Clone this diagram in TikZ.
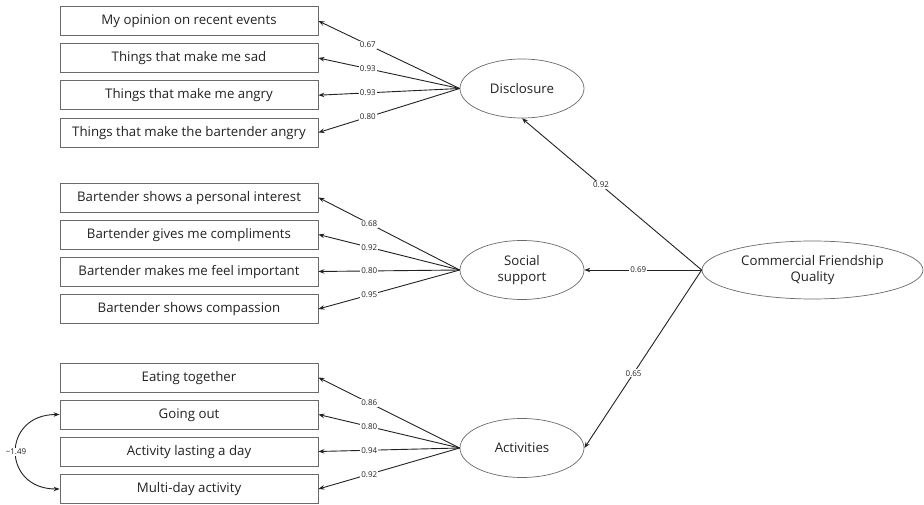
\documentclass[tikz,border=0pt]{standalone}
\usepackage{fontspec}
\setmainfont{Open Sans}
\usetikzlibrary{arrows.meta,shapes.geometric}
\tikzset{>={Stealth[length=6pt,width=4.5pt]}}
\definecolor{ink}{HTML}{222222}
\definecolor{rim}{HTML}{6A6A6A}

\begin{document}
\begin{tikzpicture}[x=1pt,y=-1pt,
  item/.style={draw=rim,line width=.8pt,minimum width=258pt,minimum height=29pt,inner sep=0pt,text height=.714em,text depth=0pt,font=\fontsize{13.25}{15}\selectfont,text=ink},
  latent/.style={ellipse,draw=rim,line width=.7pt,minimum width=124pt,minimum height=59pt,inner sep=0pt,font=\fontsize{13.25}{16}\selectfont,text=ink,align=center},
  arr/.style={->,draw=ink,line width=.9pt},
  coef/.style={fill=white,inner sep=1pt,font=\fontsize{8}{9}\selectfont,text=ink}]
\useasboundingbox (0,0) rectangle (924,505);

\node[latent] (dis) at (522,88.5) {Disclosure};
\node[latent] (soc) at (522,270) {Social\\support};
\node[latent] (act) at (522,448) {Activities};
\node[latent,minimum width=221pt,minimum height=58pt] (cfq) at (812.5,270) {Commercial Friendship\\Quality};

\node[item] (d1) at (189,21) {My opinion on recent events};
\node[item] (d2) at (189,58) {Things that make me sad};
\node[item] (d3) at (189,95.2) {Things that make me angry};
\node[item] (d4) at (189,132.5) {Things that make the bartender angry};

\node[item] (s1) at (189,197.5) {Bartender shows a personal interest};
\node[item] (s2) at (189,234.5) {Bartender gives me compliments};
\node[item] (s3) at (189,271.5) {Bartender makes me feel important};
\node[item] (s4) at (189,309) {Bartender shows compassion};

\node[item] (a1) at (189,377.5) {Eating together};
\node[item] (a2) at (189,414.5) {Going out};
\node[item] (a3) at (189,451.5) {Activity lasting a day};
\node[item] (a4) at (189,489) {Multi-day activity};

\foreach \obs/\val in {d1/0.67,d2/0.93,d3/0.93,d4/0.80}
  \draw[arr] (dis.west) -- node[coef,pos=.65] {\val} (\obs.east);
\foreach \obs/\val in {s1/0.68,s2/0.92,s3/0.80,s4/0.95}
  \draw[arr] (soc.west) -- node[coef,pos=.64] {\val} (\obs.east);
\foreach \obs/\val in {a1/0.86,a2/0.80,a3/0.94,a4/0.92}
  \draw[arr] (act.west) -- node[coef,pos=.64] {\val} (\obs.east);

\draw[arr] (cfq.west) -- node[coef,pos=.56] {0.92} (dis.south);
\draw[arr] (cfq.west) -- node[coef,pos=.54] {0.69} (soc.east);
\draw[arr] (cfq.west) -- node[coef,pos=.58] {0.65} (act.east);

\draw[arr,<->] (a2.west) to[out=180,in=180,looseness=2] node[coef] {−1.49} (a4.west);
\end{tikzpicture}
\end{document}
